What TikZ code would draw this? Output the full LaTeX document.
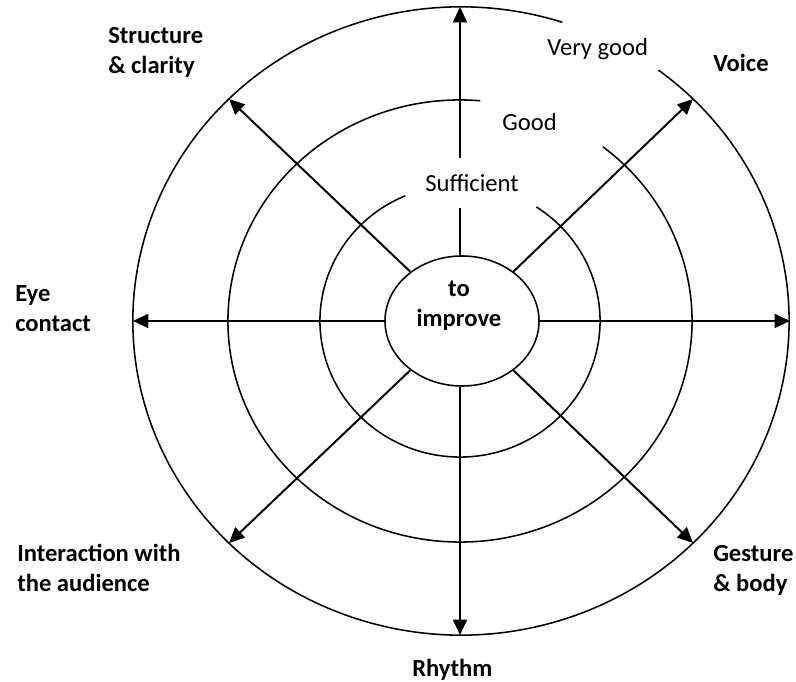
\documentclass[tikz,border=0pt]{standalone}
\usepackage{fontspec}
\setmainfont{Carlito}
\usetikzlibrary{arrows.meta,shapes.geometric}
\begin{document}
\begin{tikzpicture}[x=0.025cm,y=0.025cm,
  ring/.style={line width=1.1pt},
  arr/.style={line width=1.4pt,-{Triangle[length=11pt,width=10pt]}},
  lbl/.style={font=\fontsize{17.5}{22}\selectfont\bfseries,align=left,anchor=base west,inner sep=0pt},
  lvl/.style={font=\fontsize{17.5}{22}\selectfont,anchor=base west,inner sep=0pt}]
\useasboundingbox (0,0) rectangle (796,682);
% rings with gaps
\draw[ring] (461,361) ++(72:8.2cm and 7.85cm) arc[start angle=72,end angle=413,x radius=8.2cm,y radius=7.85cm];
\draw[ring] (460,361) ++(85:5.8cm and 5.525cm) arc[start angle=85,end angle=412,x radius=5.8cm,y radius=5.525cm];
\draw[ring] (460,361) ++(113:3.5cm and 3.4cm) arc[start angle=113,end angle=417,x radius=3.5cm,y radius=3.4cm];
% centre
\node[ellipse,draw,ring,minimum width=3.85cm,minimum height=3.25cm,inner sep=0pt] (ctr) at (462,361) {};
\node[font=\fontsize{17.5}{22}\selectfont\bfseries,align=center,anchor=base,inner sep=0pt] (ctrlbl) at (459,355) {to\\improve};
% arrow end points
\coordinate (tipT) at (460,675);
\coordinate (tipB) at (460,47);
\coordinate (tipL) at (133,361);
\coordinate (tipR) at (790,361);
\coordinate (tipUL) at (229,583);
\coordinate (tipUR) at (693,583);
\coordinate (tipLL) at (229,139);
\coordinate (tipLR) at (693,139);
\coordinate (s1) at (460,474);
\coordinate (s2) at (460,524);
% arrows
\draw[line width=1.4pt] (ctr.north -| s1) -- (s1);
\draw[arr] (s2) -- (tipT);
\draw[arr] (ctr.south -| tipB) -- (tipB);
\draw[arr] (ctr.west) -- (tipL);
\draw[arr] (ctr.east) -- (tipR);
\draw[arr] (ctr) -- (tipUL);
\draw[arr] (ctr) -- (tipUR);
\draw[arr] (ctr) -- (tipLL);
\draw[arr] (ctr) -- (tipLR);
% level labels
\node[lvl] (vg) at (547,626) {Very good};
\node[lvl] (gd) at (502,551) {Good};
\node[lvl] (sf) at (425,490) {Sufficient};
% axis labels
\node[lbl] (struct) at (108,608) {Structure\\\& clarity};
\node[lbl] (voice) at (713,610) {Voice};
\node[lbl] (eye) at (15,350) {Eye\\contact};
\node[lbl] (inter) at (17,90) {Interaction with\\the audience};
\node[lbl] (gest) at (713,90) {Gesture\\\& body};
\node[lbl] (rhy) at (412,5) {Rhythm};
\end{tikzpicture}
\end{document}
